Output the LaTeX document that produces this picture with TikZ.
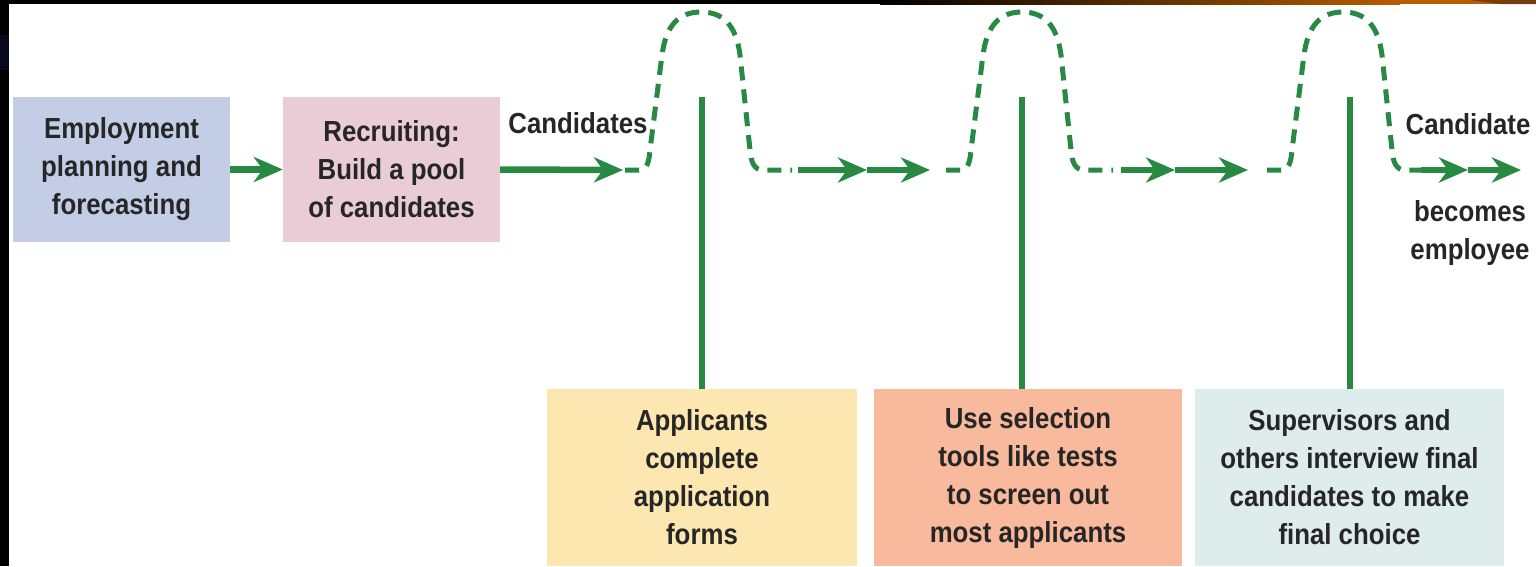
\documentclass[tikz,border=0pt]{standalone}
\usepackage{fontspec}
\setmainfont[FakeStretch=0.89]{Liberation Sans}
\usetikzlibrary{arrows.meta}
\definecolor{grn}{RGB}{40,137,66}
\definecolor{txt}{RGB}{38,38,38}
\definecolor{bluebox}{RGB}{195,206,230}
\definecolor{pinkbox}{RGB}{233,204,214}
\definecolor{yellowbox}{RGB}{253,231,177}
\definecolor{salmonbox}{RGB}{248,185,156}
\definecolor{tealbox}{RGB}{223,236,236}
\definecolor{topor}{RGB}{184,92,0}
\definecolor{topbr}{RGB}{120,60,10}
\definecolor{navy}{RGB}{8,8,30}
\tikzset{
  lbl/.style={font=\fontsize{29}{38}\bfseries\selectfont, text=txt, align=center, inner sep=0pt},
  stagebox/.style={lbl, minimum width=217pt, minimum height=145pt},
  lowbox/.style={lbl, minimum height=177pt},
  flow/.style={draw=grn, line width=6.5pt, -{Stealth[length=29pt,width=25pt,inset=9pt]}},
  plain/.style={draw=grn, line width=6.5pt},
  dashline/.style={draw=grn, line width=5pt, dash pattern=on 14pt off 9pt},
  pics/bump/.style={code={
    \draw[dashline] (-76,0) -- (-62,0) .. controls (-54,0) and (-52,-8) .. (-51,-20)
      -- (-39,-115) .. controls (-35,-145) and (-22,-158) .. (0,-158)
      .. controls (22,-158) and (35,-145) .. (39,-115)
      -- (49,-20) .. controls (50,-8) and (53,0) .. (62,0) -- (91,0);
  }}
}
\begin{document}
\begin{tikzpicture}[x=1pt,y=-1pt]
\useasboundingbox (0,0) rectangle (1536,566);
\fill[white] (0,0) rectangle (1536,566);
% frame strips
\fill[black] (0,0) rectangle (9,566);
\fill[navy] (0,35) rectangle (9,70);
\fill[black] (0,0) rectangle (880,4);
\shade[left color=black, right color=topor] (880,0) rectangle (1400,4);
\fill[topor] (1400,0) rectangle (1536,4);
\fill[topbr] (1470,0) -- (1536,0) -- (1536,4) -- (1500,4) -- cycle;

% boxes
\node[stagebox, fill=bluebox] (plan) at (121.5,169.5) {Employment\\planning and\\forecasting};
\node[stagebox, fill=pinkbox] (recr) at (391.5,169.5) {Recruiting:\\Build a pool\\of candidates};
\node[lowbox, fill=yellowbox, minimum width=310pt] (appl) at (702,477.5) {Applicants\\complete\\application\\forms};
\node[lowbox, fill=salmonbox, minimum width=308pt] (sel) at (1028,477.5) {Use selection\\tools like tests\\to screen out\\most applicants};
\node[lowbox, fill=tealbox, minimum width=309pt] (intv) at (1349.5,477.5) {Supervisors and\\others interview final\\candidates to make\\final choice};

% labels
\node[lbl, anchor=base] (cands) at (578,133) {Candidates};
\node[lbl, anchor=base] (cand) at (1468,134) {Candidate};
\node[lbl, anchor=base] (becomes) at (1470,259) {becomes\\employee};

% coordinates on the flow line
\coordinate (a1) at (623,170);
\coordinate (s1) at (798,170);
\coordinate (m1) at (867,170);
\coordinate (e1) at (930,170);
\coordinate (s2) at (1121,170);
\coordinate (m2) at (1175,170);
\coordinate (e2) at (1248,170);
\coordinate (s3) at (1421,170);
\coordinate (m3) at (1468,170);
\coordinate (e3) at (1521,170);
\coordinate (t1) at (702,97);
\coordinate (t2) at (1022,97);
\coordinate (t3) at (1350,97);

% connectors
\draw[flow] (plan.east) -- (recr.west);
\draw[flow] (recr.east) -- (a1);
\pic at (701,170) {bump};
\draw[flow] (s1) -- (m1);
\draw[flow] (m1) -- (e1);
\pic at (1022,170) {bump};
\draw[flow] (s2) -- (m2);
\draw[flow] (m2) -- (e2);
\pic at (1343,170) {bump};
\draw[flow] (s3) -- (m3);
\draw[flow] (m3) -- (e3);

% vertical stems
\draw[plain] (t1) -- (t1 |- appl.north);
\draw[plain] (t2) -- (t2 |- sel.north);
\draw[plain] (t3) -- (t3 |- intv.north);
\end{tikzpicture}
\end{document}
